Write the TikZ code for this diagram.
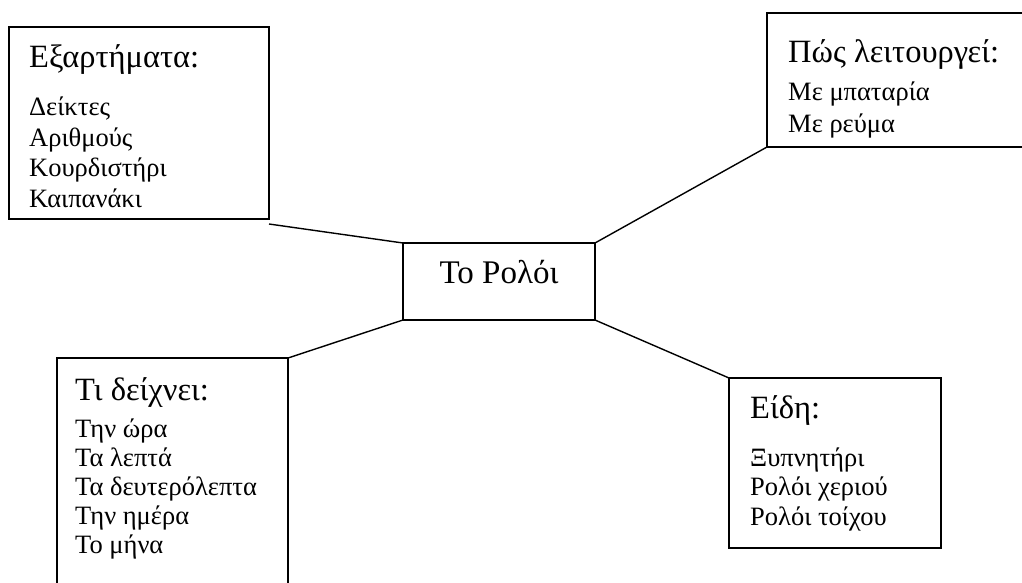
\documentclass[tikz,border=0pt]{standalone}
\usepackage{fontspec}
\setmainfont{Liberation Serif}
\usetikzlibrary{positioning}

\begin{document}
\begin{tikzpicture}
[	
	x=1pt, y=-1pt,
	box/.style={rectangle,draw,line width=1.4pt,outer sep=0pt,anchor=north west},
	head/.style={anchor=base west,inner sep=0pt,font=\fontsize{32.5}{36}\selectfont},
	list/.style={anchor=base west,align=left,inner sep=0pt,font=\fontsize{26.5}{30.5}\selectfont}
]
\useasboundingbox (0,0) rectangle (1022,583);

% centre
\node[box,minimum width=192pt,minimum height=77pt] (clock) at (403,243) {};
\node[anchor=base,inner sep=0pt,font=\fontsize{33}{36}\selectfont] (clockT) at (499,283) {Το Ρολόι};

% top left
\node[box,minimum width=260pt,minimum height=192pt] (parts) at (9,27) {};
\node[head] (partsT) at (29,68) {Εξαρτήματα:};
\node[list] (partsL) at (29,207) {Δείκτες\\Αριθμούς\\Κουρδιστήρι\\Καιπανάκι};

% top right
\node[box,minimum width=270pt,minimum height=134pt] (work) at (767,13) {};
\node[head] (workT) at (788,63) {Πώς λειτουργεί:};
\node[list,font=\fontsize{26.5}{32}\selectfont] (workL) at (788,132) {Με μπαταρία\\Με ρεύμα};

% bottom left
\node[box,minimum width=231pt,minimum height=240pt] (shows) at (57,358) {};
\node[head] (showsT) at (75,400) {Τι δείχνει:};
\node[list,font=\fontsize{26.5}{29}\selectfont] (showsL) at (75,553) {Την ώρα\\Τα λεπτά\\Τα δευτερόλεπτα\\Την ημέρα\\Το μήνα};

% bottom right
\node[box,minimum width=212pt,minimum height=170pt] (kinds) at (729,378) {};
\node[head] (kindsT) at (750,418) {Είδη:};
\node[list,font=\fontsize{26.5}{29.5}\selectfont] (kindsL) at (750,525) {Ξυπνητήρι\\Ρολόι χεριού\\Ρολόι τοίχου};

\draw[line width=1.4pt] ([yshift=-5pt]parts.south east) -- (clock.north west);
\draw[line width=1.4pt] (work.south west) -- (clock.north east);
\draw[line width=1.4pt] (shows.north east) -- (clock.south west);
\draw[line width=1.4pt] (kinds.north west) -- (clock.south east);

\end{tikzpicture}
\end{document}
